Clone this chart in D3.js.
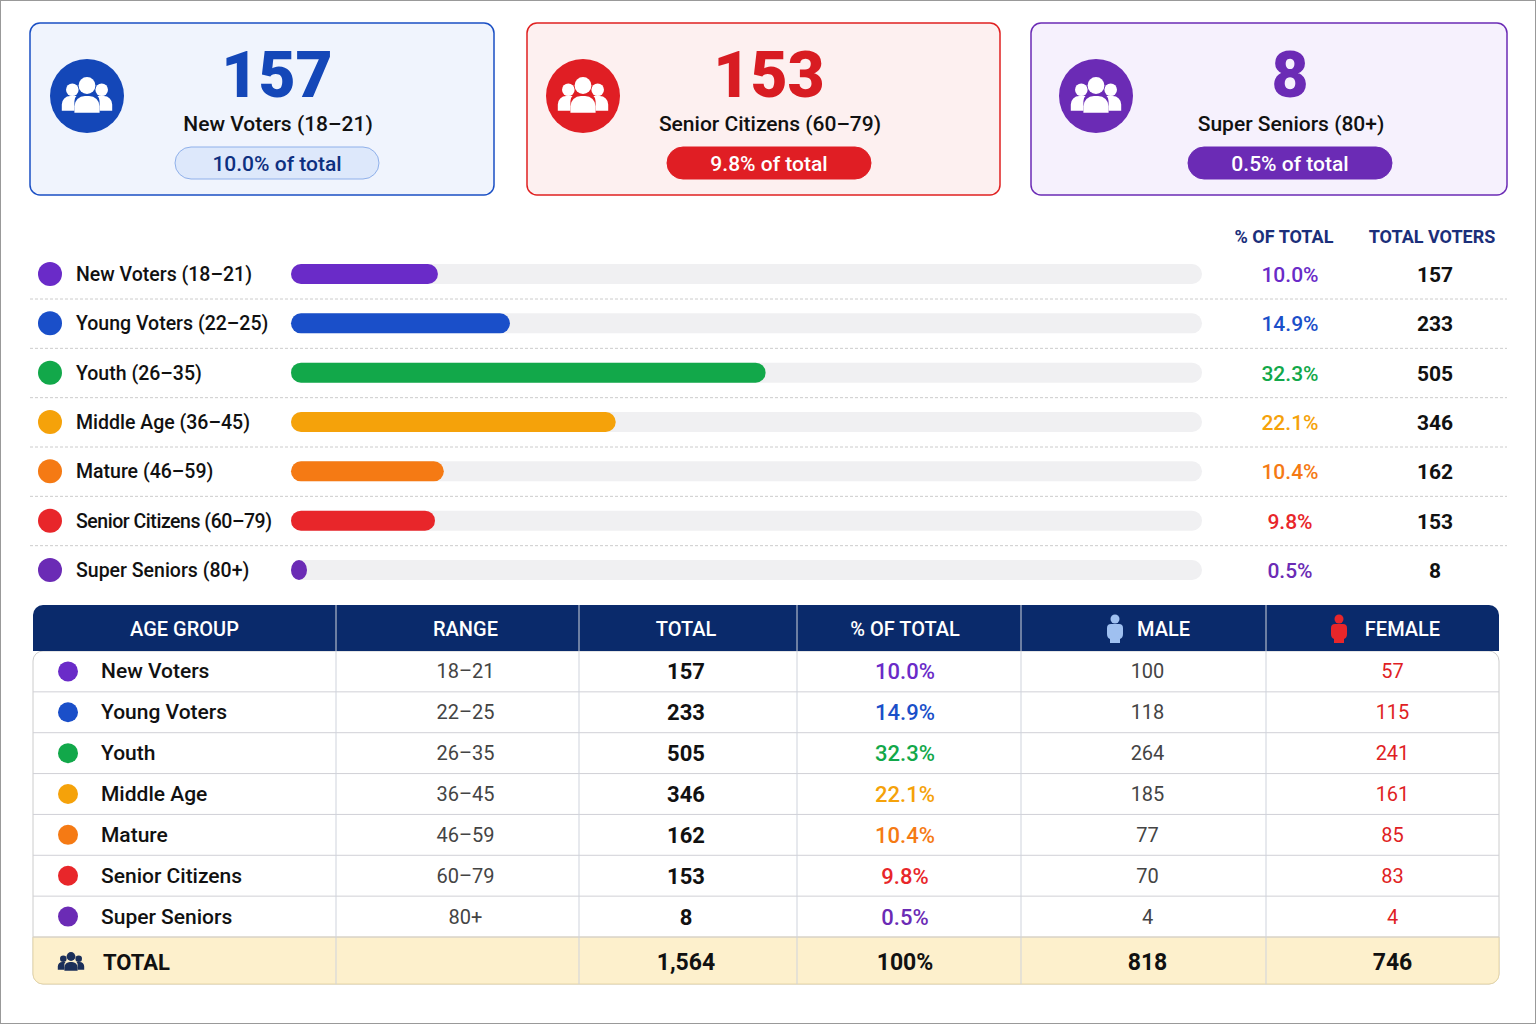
<!DOCTYPE html>
<html>
<head>
<meta charset="UTF-8">
<script src="https://cdn.jsdelivr.net/npm/d3@7"></script>
<style>
  body { margin: 0; background: #fff; }
  svg text { font-family: Roboto, "Noto Sans", sans-serif; }
</style>
</head>
<body>
<svg id="chart" width="1536" height="1024"></svg>
<script>
// data
const groups = ['New Voters', 'Young Voters', 'Youth', 'Middle Age', 'Mature', 'Senior Citizens', 'Super Seniors'];
const ranges = ['18–21', '22–25', '26–35', '36–45', '46–59', '60–79', '80+'];
const totals = [157, 233, 505, 346, 162, 153, 8];
const percents = [10.0, 14.9, 32.3, 22.1, 10.4, 9.8, 0.5];
const males = [100, 118, 264, 185, 77, 70, 4];
const females = [57, 115, 241, 161, 85, 83, 4];
const colors = ['#6a2bc8', '#1a4fc9', '#12a84a', '#f5a20a', '#f57a14', '#e8262a', '#6b2bb5'];
const grandTotal = 1564, maleTotal = 818, femaleTotal = 746;
const cards = [
  {value: 157, label: 'New Voters (18–21)', pct: '10.0% of total', stroke: '#1a4fc4', fill: '#f0f4fd', icon: '#1447b8', pill: '#dde8fb', pillText: '#0d2f80', pillStroke: '#8fb0ea', num: '#1447b8'},
  {value: 153, label: 'Senior Citizens (60–79)', pct: '9.8% of total', stroke: '#e02020', fill: '#fdf0f0', icon: '#e01e24', pill: '#e01e24', pillText: '#fff', pillStroke: '#e01e24', num: '#d81c22'},
  {value: 8, label: 'Super Seniors (80+)', pct: '0.5% of total', stroke: '#6b2bb5', fill: '#f6f1fd', icon: '#6b2bb5', pill: '#6b2bb5', pillText: '#fff', pillStroke: '#6b2bb5', num: '#6b2bb5'}
];
const cardX = [30, 527, 1031], cardW = [464, 473, 476];
const cardCenter = [247, 242, 259], iconX = [57, 56, 65];

const svg = d3.select('#chart');
svg.append('rect').attr('x', 0.5).attr('y', 0.5).attr('width', 1535).attr('height', 1023)
  .attr('fill', '#fff').attr('stroke', '#999');

function people(g, cx, cy, s, fill) {
  // three-person glyph
  const p = g.append('g').attr('fill', fill).attr('transform', `translate(${cx},${cy}) scale(${s})`);
  [[-14, -6, 6], [14, -6, 6], [0, -10, 8]].forEach(([x, y, r]) => p.append('circle').attr('cx', x).attr('cy', y).attr('r', r));
  p.append('path').attr('d', 'M-24,14 v-6 a8,8 0 0 1 8,-8 h6 a6,6 0 0 0 -2,5 v9z');
  p.append('path').attr('d', 'M24,14 v-6 a8,8 0 0 0 -8,-8 h-6 a6,6 0 0 1 2,5 v9z');
  p.append('path').attr('d', 'M-12,16 v-6 a10,10 0 0 1 10,-10 h4 a10,10 0 0 1 10,10 v6z');
}

// cards
cards.forEach((c, i) => {
  const g = svg.append('g').attr('transform', `translate(${cardX[i]},23)`);
  const w = cardW[i];
  g.append('rect').attr('width', w).attr('height', 172).attr('rx', 10)
    .attr('fill', c.fill).attr('stroke', c.stroke).attr('stroke-width', 1.5);
  g.append('circle').attr('cx', iconX[i]).attr('cy', 73).attr('r', 37).attr('fill', c.icon);
  people(g, iconX[i], 73, 1.05, '#fff');
  const cx = cardCenter[i];
  g.append('text').attr('x', cx).attr('y', 74).attr('text-anchor', 'middle')
    .attr('font-size', 64).attr('font-weight', 900).attr('fill', c.num).text(c.value);
  g.append('text').attr('x', cx + 1).attr('y', 108).attr('text-anchor', 'middle')
    .attr('font-size', 21).attr('font-weight', 500).attr('fill', '#111').text(c.label);
  g.append('rect').attr('x', cx - 102).attr('y', 124).attr('width', 204).attr('height', 32).attr('rx', 16)
    .attr('fill', c.pill).attr('stroke', c.pillStroke);
  g.append('text').attr('x', cx).attr('y', 148).attr('text-anchor', 'middle')
    .attr('font-size', 21).attr('font-weight', 500).attr('fill', c.pillText).text(c.pct);
});

// bar list
const rowY = d3.scalePoint().domain(groups).range([274, 570]);
const x = d3.scaleLinear().domain([0, 62]).range([0, 911]);
const labels = ['New Voters (18–21)', 'Young Voters (22–25)', 'Youth (26–35)', 'Middle Age (36–45)', 'Mature (46–59)', 'Senior Citizens (60–79)', 'Super Seniors (80+)'];

svg.append('text').attr('x', 1284).attr('y', 243).attr('text-anchor', 'middle')
  .attr('font-size', 18).attr('font-weight', 700).attr('fill', '#1b2f7a').text('% OF TOTAL');
svg.append('text').attr('x', 1432).attr('y', 243).attr('text-anchor', 'middle')
  .attr('font-size', 18).attr('font-weight', 700).attr('fill', '#1b2f7a').text('TOTAL VOTERS');

groups.forEach((gname, i) => {
  const y = rowY(gname);
  if (i < groups.length - 1)
    svg.append('line').attr('x1', 30).attr('x2', 1507).attr('y1', y + 25).attr('y2', y + 25)
      .attr('stroke', '#ccc').attr('stroke-dasharray', '3,2');
  svg.append('circle').attr('cx', 50).attr('cy', y).attr('r', 12).attr('fill', colors[i]);
  svg.append('text').attr('x', 76).attr('y', y + 7).attr('font-size', 19.5).attr('font-weight', 500)
    .attr('fill', '#111').attr('textLength', labels[i].length > 20 ? 196 : null).text(labels[i]);
  svg.append('rect').attr('x', 291).attr('y', y - 10).attr('width', 911).attr('height', 20).attr('rx', 10)
    .attr('fill', '#f0f0f2');
  svg.append('rect').attr('x', 291).attr('y', y - 10).attr('width', Math.max(16, x(percents[i]))).attr('height', 20).attr('rx', 10)
    .attr('fill', colors[i]);
  svg.append('text').attr('x', 1290).attr('y', y + 8).attr('text-anchor', 'middle').attr('font-size', 21)
    .attr('font-weight', 500).attr('fill', colors[i]).text(percents[i].toFixed(1) + '%');
  svg.append('text').attr('x', 1435).attr('y', y + 8).attr('text-anchor', 'middle').attr('font-size', 21)
    .attr('font-weight', 700).attr('fill', '#111').text(totals[i]);
});

// table
const cols = [33, 336, 579, 797, 1021, 1266, 1499];
const headers = ['AGE GROUP', 'RANGE', 'TOTAL', '% OF TOTAL', 'MALE', 'FEMALE'];
const mid = i => (cols[i] + cols[i + 1]) / 2;
const colOff = [0, 8, -2, -4, 0, 10];
const tRowY = d3.scaleLinear().domain([0, 7]).range([651, 937]);
const rowH = tRowY(1) - tRowY(0);
const t = svg.append('g');

t.append('rect').attr('x', 33).attr('y', 651).attr('width', 1466).attr('height', 333).attr('rx', 10)
  .attr('fill', '#fff').attr('stroke', '#ccc');
t.append('path').attr('d', `M33,651 V615 a10,10 0 0 1 10,-10 H1489 a10,10 0 0 1 10,10 V651Z`).attr('fill', '#0a2a6b');
t.append('path').attr('d', `M33,937 H1499 V974 a10,10 0 0 1 -10,10 H43 a10,10 0 0 1 -10,-10Z`)
  .attr('fill', '#fdf0cc').attr('stroke', '#e6d6a8');

headers.forEach((h, i) => {
  const off = i >= 4 ? 20 : colOff[i];
  t.append('text').attr('x', mid(i) + off).attr('y', 636).attr('text-anchor', 'middle')
    .attr('font-size', 20).attr('font-weight', 500).attr('fill', '#fff').text(h);
});
[[1115, '#9fc0f0'], [1339, '#e8262a']].forEach(([cx, c]) => {
  t.append('circle').attr('cx', cx).attr('cy', 619).attr('r', 4.5).attr('fill', c);
  t.append('path').attr('d', `M${cx - 8},628 q0,-4 4,-4 h8 q4,0 4,4 v6 q0,4 -3,5 v4 h-10 v-4 q-3,-1 -3,-5z`).attr('fill', c);
});

for (let r = 1; r <= 7; r++) {
  const y = tRowY(r);
  t.append('line').attr('x1', 33).attr('x2', 1499).attr('y1', y).attr('y2', y).attr('stroke', '#d0d0d6');
}
cols.slice(1, -1).forEach(cx => t.append('line').attr('x1', cx).attr('x2', cx).attr('y1', 605).attr('y2', 984)
  .attr('stroke', '#cfd3dc'));

groups.forEach((gname, i) => {
  const y = tRowY(i) + rowH / 2;
  t.append('circle').attr('cx', 68).attr('cy', y).attr('r', 10).attr('fill', colors[i]);
  t.append('text').attr('x', 101).attr('y', y + 7).attr('font-size', 21).attr('font-weight', 500).attr('fill', '#111').text(gname);
  t.append('text').attr('x', mid(1) + colOff[1]).attr('y', y + 7).attr('text-anchor', 'middle').attr('font-size', 20).attr('fill', '#444').text(ranges[i]);
  t.append('text').attr('x', mid(2) + colOff[2]).attr('y', y + 8).attr('text-anchor', 'middle').attr('font-size', 22).attr('font-weight', 700).attr('fill', '#111').text(totals[i]);
  t.append('text').attr('x', mid(3) + colOff[3]).attr('y', y + 8).attr('text-anchor', 'middle').attr('font-size', 22).attr('font-weight', 500).attr('fill', colors[i]).text(percents[i].toFixed(1) + '%');
  t.append('text').attr('x', mid(4) + 4).attr('y', y + 7).attr('text-anchor', 'middle').attr('font-size', 20).attr('fill', '#444').text(males[i]);
  t.append('text').attr('x', mid(5) + 10).attr('y', y + 7).attr('text-anchor', 'middle').attr('font-size', 20).attr('fill', '#e01e24').text(females[i]);
});

const ty = 962;
people(t, 71, ty, 0.55, '#1b2f5a');
t.append('text').attr('x', 103).attr('y', ty + 8).attr('font-size', 22).attr('font-weight', 700).attr('fill', '#111').text('TOTAL');
[[2, d3.format(',')(grandTotal)], [3, '100%'], [4, maleTotal], [5, femaleTotal]].forEach(([c, v]) => {
  t.append('text').attr('x', mid(c) + (c === 5 ? 10 : c === 4 ? 4 : colOff[c])).attr('y', ty + 8).attr('text-anchor', 'middle')
    .attr('font-size', 23).attr('font-weight', 700).attr('fill', '#111').text(v);
});
</script>
</body>
</html>
